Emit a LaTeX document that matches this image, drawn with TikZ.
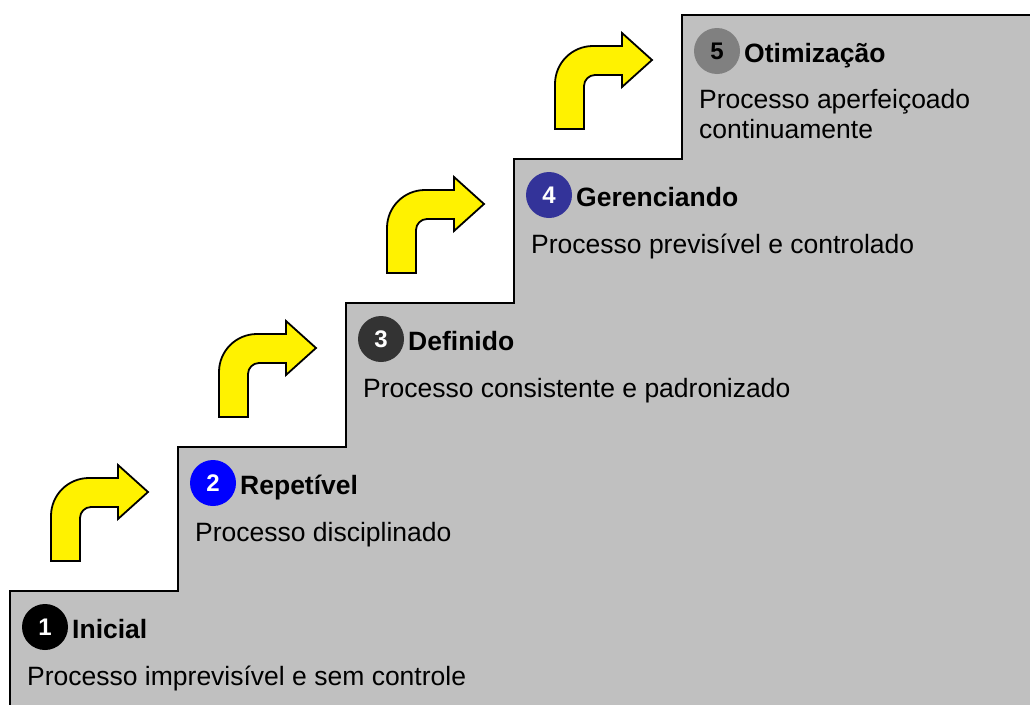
\documentclass[tikz,border=0pt]{standalone}
\usepackage{fontspec}
\setmainfont{Liberation Sans}
\definecolor{stairgray}{HTML}{C0C0C0}
\definecolor{lvlthree}{HTML}{333333}
\definecolor{lvlfour}{HTML}{333399}
\definecolor{lvlfive}{HTML}{808080}
\tikzset{
  stair/.style={fill=stairgray, draw=black, line width=2pt},
  turnarrow/.style={fill=yellow, draw=black, line width=1.8pt, line join=miter},
  levelnum/.style={circle, minimum size=46pt, inner sep=0pt, font=\fontsize{24}{28}\selectfont\bfseries},
  leveltitle/.style={anchor=base west, inner sep=0pt, font=\fontsize{26.5}{32}\selectfont\bfseries},
  leveldesc/.style={anchor=base west, inner sep=0pt, font=\fontsize{26.5}{32}\selectfont},
}
\begin{document}
\begin{tikzpicture}[x=1pt,y=-1pt]
        \useasboundingbox (0,0) rectangle (1030,704);
        \clip (0,0) rectangle (1030,704);
        % staircase
        \draw[stair] (10,712) -- (10,591) -- (178,591) -- (178,447) -- (346,447) -- (346,303)
          -- (514,303) -- (514,159) -- (682,159) -- (682,15) -- (1040,15) -- (1040,712) -- cycle;
        % arrows between the steps
        \foreach \i in {0,...,3} {
          \draw[turnarrow, shift={(168*\i,-144*\i)}] (51,561) -- (51,516)
            .. controls (51,495) and (68,478) .. (89,478) -- (118,478) -- (118,465)
            -- (148,492) -- (118,519) -- (118,507) -- (91,507)
            .. controls (85,507) and (80,512) .. (80,518) -- (80,561) -- cycle;
        }
        % levels
        \foreach \i/\col/\txtcol/\name in {1/black/white/Inicial, 2/blue/white/Repetível,
            3/lvlthree/white/Definido, 4/lvlfour/white/Gerenciando, 5/lvlfive/black/Otimização} {
          \node[levelnum, fill=\col, text=\txtcol] (num\i) at ({168*\i-123},{771-144*\i}) {\i};
          \node[leveltitle] (title\i) at ({168*\i-96},{782-144*\i}) {\name};
        }
        \node[leveldesc] (desc1) at (27,685) {Processo imprevisível e sem controle};
        \node[leveldesc] (desc2) at (195,541) {Processo disciplinado};
        \node[leveldesc] (desc3) at (363,397) {Processo consistente e padronizado};
        \node[leveldesc] (desc4) at (531,253) {Processo previsível e controlado};
        \node[leveldesc] (desc5) at (699,108) {Processo aperfeiçoado};
        \node[leveldesc] (desc5b) at (699,138) {continuamente};
\end{tikzpicture}
\end{document}
